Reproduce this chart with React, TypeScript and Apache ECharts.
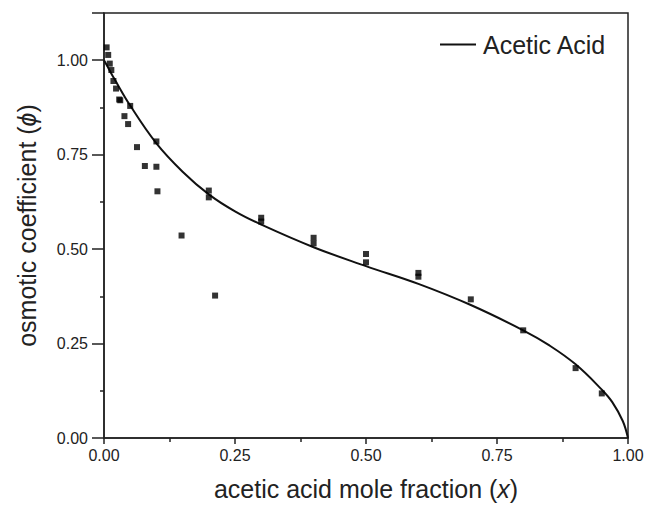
import React, { useEffect, useRef } from "react";
import * as echarts from "echarts";

const pointX = [0.005, 0.008, 0.011, 0.014, 0.018, 0.023, 0.029, 0.031, 0.039, 0.046, 0.05, 0.063, 0.078, 0.1, 0.1, 0.102, 0.148, 0.2, 0.2, 0.212, 0.3, 0.3, 0.4, 0.4, 0.5, 0.5, 0.6, 0.6, 0.7, 0.8, 0.9, 0.95];
const pointY = [1.034, 1.014, 0.991, 0.974, 0.945, 0.925, 0.896, 0.894, 0.852, 0.831, 0.879, 0.77, 0.72, 0.785, 0.718, 0.653, 0.536, 0.655, 0.637, 0.377, 0.583, 0.573, 0.53, 0.515, 0.487, 0.465, 0.437, 0.427, 0.367, 0.285, 0.185, 0.118];

const curveX = [0, 0.01, 0.02, 0.05, 0.1, 0.15, 0.2, 0.25, 0.3, 0.4, 0.5, 0.6, 0.7, 0.8, 0.85, 0.9, 0.95, 0.97, 0.99, 1.0];
const curveY = [1.0, 0.975, 0.95, 0.88, 0.78, 0.705, 0.645, 0.6, 0.565, 0.505, 0.455, 0.408, 0.352, 0.285, 0.245, 0.195, 0.128, 0.095, 0.045, 0.0];

const xTickInterval = 0.25;
const yTickInterval = 0.25;

export default function App() {
  const ref = useRef<HTMLDivElement>(null);
  useEffect(() => {
    if (!ref.current) return;
    const chart = echarts.init(ref.current, null, { renderer: "svg" });
    const font = "Liberation Sans, Arial, sans-serif";
    chart.setOption({
      animation: false,
      backgroundColor: "#ffffff",
      textStyle: { fontFamily: font },
      grid: {
        left: 104,
        right: 19,
        top: 13,
        bottom: 67,
        show: true,
        borderColor: "#222",
        borderWidth: 1.5,
        backgroundColor: "transparent",
      },
      legend: {
        data: [{ name: "Acetic Acid", icon: "rect" }],
        left: 440,
        top: 32,
        padding: 0,
        itemWidth: 36,
        itemHeight: 2,
        itemStyle: { color: "#111" },
        textStyle: { fontSize: 25, color: "#222", fontFamily: font, padding: [0, 0, 0, 2] },
      },
      xAxis: {
        type: "value",
        min: 0,
        max: 1,
        interval: xTickInterval,
        name: "{a|acetic acid mole fraction (}{i|x}{a|)}",
        nameLocation: "middle",
        nameGap: 38,
        nameTextStyle: {
          rich: {
            a: { fontSize: 25, color: "#222", fontFamily: font },
            i: { fontSize: 25, color: "#222", fontFamily: font, fontStyle: "italic" },
          },
        },
        axisLine: { show: true, lineStyle: { color: "#222", width: 1.5 } },
        axisTick: { show: true, inside: false, length: 6, lineStyle: { color: "#222", width: 1.5 } },
        minorTick: { show: true, splitNumber: 2, length: 4, lineStyle: { color: "#222", width: 1.5 } },
        axisLabel: {
          fontSize: 16,
          color: "#222",
          margin: 9,
          fontFamily: font,
          formatter: (v: number) => v.toFixed(2),
        },
        splitLine: { show: false },
      },
      yAxis: {
        type: "value",
        min: 0,
        max: 1.125,
        interval: yTickInterval,
        name: "{a|osmotic coefficient (}{i|ϕ}{a|)}",
        nameLocation: "middle",
        nameGap: 65,
        nameTextStyle: {
          rich: {
            a: { fontSize: 25, color: "#222", fontFamily: font },
            i: { fontSize: 25, color: "#222", fontFamily: font, fontStyle: "italic" },
          },
        },
        axisLine: { show: true, lineStyle: { color: "#222", width: 1.5 } },
        axisTick: { show: true, inside: false, length: 12, lineStyle: { color: "#222", width: 1.5 } },
        minorTick: { show: true, splitNumber: 2, length: 4, lineStyle: { color: "#222", width: 1.5 } },
        axisLabel: {
          fontSize: 16,
          color: "#222",
          margin: 16,
          fontFamily: font,
          showMaxLabel: false,
          formatter: (v: number) => (v > 1.0001 ? "" : v.toFixed(2)),
        },
        splitLine: { show: false },
      },
      series: [
        {
          name: "Acetic Acid",
          type: "line",
          data: curveX.map((x, i) => [x, curveY[i]]),
          smooth: 0.4,
          symbol: "none",
          lineStyle: { color: "#111", width: 2 },
          z: 2,
        },
        {
          name: "data",
          type: "scatter",
          data: pointX.map((x, i) => [x, pointY[i]]),
          symbol: "rect",
          symbolSize: [6, 6],
          itemStyle: { color: "#000" },
          z: 3,
        },
      ],
    });
    return () => chart.dispose();
  }, []);
  return <div ref={ref} style={{ width: 647, height: 506, position: "absolute", left: 0, top: 0 }} />;
}
